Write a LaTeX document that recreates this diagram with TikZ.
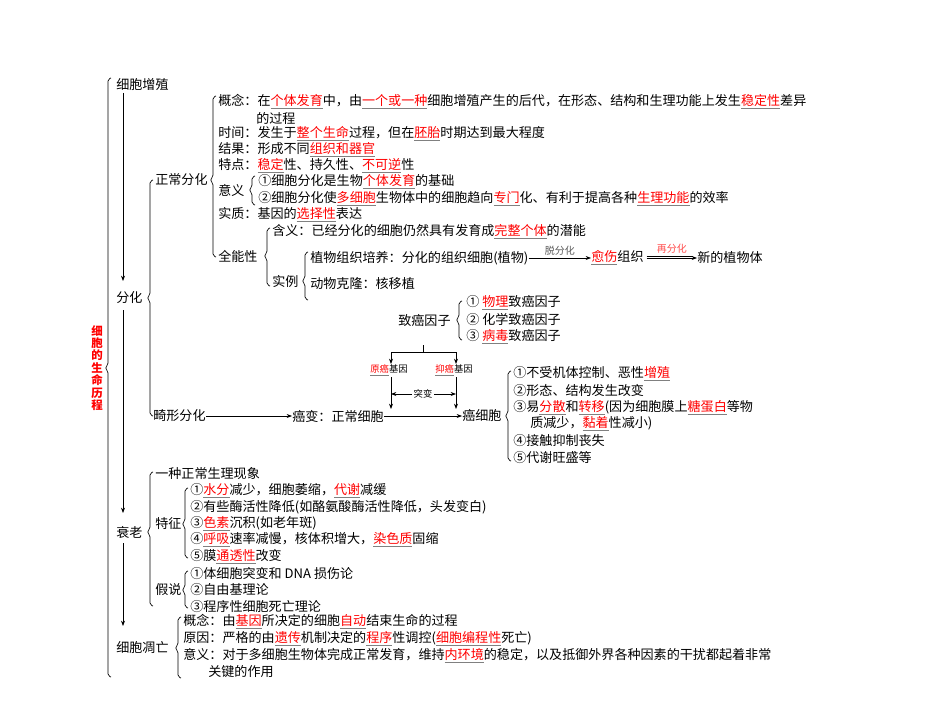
\documentclass[tikz,border=0pt]{standalone}
\usepackage{fontspec}
\setmainfont{Noto Sans CJK SC}
\usetikzlibrary{arrows.meta}
\newcommand\hl[1]{\textcolor{gray}{\underline{\textcolor{red}{#1}}}}
\newcommand\brc[4]{\draw[rounded corners=1.5] (#1+3,#2) -- (#1,#2+1) -- (#1,#3-3) -- (#1-3,#3) -- (#1,#3+3) -- (#1,#4-1) -- (#1+3,#4);}
\begin{document}
\begin{tikzpicture}[x=0.75pt,y=-0.75pt,
  t/.style={anchor=west,inner sep=0pt,font=\fontsize{9.8pt}{11pt}\selectfont},
  sm/.style={anchor=west,inner sep=0pt,font=\fontsize{7pt}{8pt}\selectfont},
  ar/.style={-{Stealth[length=4pt,width=3pt]},line width=0.5pt},
  line width=0.5pt]
\useasboundingbox (0,0) rectangle (950,713);
% outer
\node[inner sep=0pt,align=center,text=red,font=\fontsize{8.6pt}{9.3pt}\selectfont\bfseries] (title) at (97,368) {细\\胞\\的\\生\\命\\历\\程};
\brc{108}{78}{368}{677}
\node[t] (zz) at (116,85) {细胞增殖};
\node[t] (fh) at (116,298) {分化};
\node[t] (sl) at (116,532) {衰老};
\node[t] (dw) at (116,648) {细胞凋亡};
\coordinate (a1) at (123,281); \coordinate (a2) at (123,513); \coordinate (a3) at (123,626);
\draw[ar] (123,93) -- (a1);
\draw[ar] (123,310) -- (a2);
\draw[ar] (123,543) -- (a3);
% fenhua
\brc{150}{180}{298}{416}
\node[t] (zc) at (155,180) {正常分化};
\brc{213}{96}{180}{257}
\node[t] (gn) at (218,102) {概念：在\hl{个体发育}中，由\hl{一个或一种}细胞增殖产生的后代，在形态、结构和生理功能上发生\hl{稳定性}差异};
\node[t] (gn2) at (256,118) {的过程};
\node[t] (sj) at (218,134) {时间：发生于\hl{整个生命}过程，但在\hl{胚胎}时期达到最大程度};
\node[t] (jg) at (218,150) {结果：形成不同\hl{组织和器官}};
\node[t] (td) at (218,166) {特点：\hl{稳定}性、持久性、\hl{不可逆}性};
\node[t] (yy) at (218,190) {意义};
\brc{252}{176}{190}{205}
\node[t] (yy1) at (258,182) {①细胞分化是生物\hl{个体发育}的基础};
\node[t] (yy2) at (258,199) {②细胞分化使\hl{多细胞}生物体中的细胞趋向\hl{专门}化、有利于提高各种\hl{生理功能}的效率};
\node[t] (sz) at (218,215) {实质：基因的\hl{选择性}表达};
\node[t] (qn) at (218,256) {全能性};
\brc{267}{228}{256}{286}
\node[t] (hy) at (272,232) {含义：已经分化的细胞仍然具有发育成\hl{完整个体}的潜能};
\node[t] (sl2) at (272,281) {实例};
\brc{305}{252}{281}{300}
\node[t] (zw) at (310,258) {植物组织培养：分化的组织细胞(植物)};
\node[t] (dw2) at (310,284) {动物克隆：核移植};
\node[t] (ys) at (591,258) {\hl{愈伤}组织};
\node[t] (xd) at (697,258) {新的植物体};
\draw[ar] (zw.east) -- node[above=1pt,inner sep=1pt,font=\fontsize{7.5pt}{8pt}\selectfont,text=gray!70!black]{脱分化} (ys.west);
\draw[ar] ([xshift=2pt]ys.east) -- node[above=2pt,inner sep=1pt,font=\fontsize{7.5pt}{8pt}\selectfont,text=red!70]{再分化} (xd.west);
\draw[line width=0.4pt] ([xshift=2pt,yshift=1.3pt]ys.east) -- ([xshift=-3pt,yshift=1.3pt]xd.west);
% abnormal
\node[t] (jx) at (153,416) {畸形分化};
\node[t] (ab) at (292,416) {癌变：正常细胞};
\node[t] (axb) at (462,416) {癌细胞};
\draw[ar] (jx.east) -- (ab.west);
\draw[ar] (ab.east) -- (axb.west);
\node[t] (ay) at (398,320) {致癌因子};
\brc{459}{301}{320}{340}
\node[t] (ay1) at (466,303) {① \hl{物理}致癌因子};
\node[t] (ay2) at (466,320) {② 化学致癌因子};
\node[t] (ay3) at (466,337) {③ \hl{病毒}致癌因子};
\node[sm] (yag) at (370,370) {\hl{原癌}基因};
\node[sm] (yig) at (435,370) {\hl{抑癌}基因};
\draw (423,345) -- (423,352);
\draw[ar] (423,352) -| (391,364);
\draw[ar] (423,352) -| (456,364);
\draw[ar] (391,377) -- (391,409);
\draw[ar] (456,377) -- (456,409);
\node[inner sep=1pt,font=\fontsize{7pt}{8pt}\selectfont] (tb) at (423,394) {突变};
\draw[ar] (tb.west) -- (391,394);
\draw[ar] (tb.east) -- (456,394);
\brc{508}{371}{416}{461}
\node[t] (c1) at (513,374) {①不受机体控制、恶性\hl{增殖}};
\node[t] (c2) at (513,391) {②形态、结构发生改变};
\node[t] (c3) at (513,408) {③易\hl{分散}和\hl{转移}(因为细胞膜上\hl{糖蛋白}等物};
\node[t] (c3b) at (530,424) {质减少，\hl{黏着}性减小)};
\node[t] (c4) at (513,441) {④接触抑制丧失};
\node[t] (c5) at (513,458) {⑤代谢旺盛等};
% aging
\brc{150}{472}{532}{606}
\node[t] (zc2) at (155,474) {一种正常生理现象};
\node[t] (tz) at (155,524) {特征};
\brc{185}{488}{524}{558}
\node[t] (t1) at (190,491) {①\hl{水分}减少，细胞萎缩，\hl{代谢}减缓};
\node[t] (t2) at (190,507) {②有些酶活性降低(如酪氨酸酶活性降低，头发变白)};
\node[t] (t3) at (190,524) {③\hl{色素}沉积(如老年斑)};
\node[t] (t4) at (190,540) {④\hl{呼吸}速率减慢，核体积增大，\hl{染色质}固缩};
\node[t] (t5) at (190,557) {⑤膜\hl{通透性}改变};
\node[t] (js) at (155,590) {假说};
\brc{185}{571}{590}{608}
\node[t] (j1) at (190,574) {①体细胞突变和 DNA 损伤论};
\node[t] (j2) at (190,590) {②自由基理论};
\node[t] (j3) at (190,607) {③程序性细胞死亡理论};
% apoptosis
\brc{178}{617}{648}{678}
\node[t] (d1) at (183,622) {概念：由\hl{基因}所决定的细胞\hl{自动}结束生命的过程};
\node[t] (d2) at (183,639) {原因：严格的由\hl{遗传}机制决定的\hl{程序}性调控(\hl{细胞编程性}死亡)};
\node[t] (d3) at (183,656) {意义：对于多细胞生物体完成正常发育，维持\hl{内环境}的稳定，以及抵御外界各种因素的干扰都起着非常};
\node[t] (d4) at (208,672) {关键的作用};
\end{tikzpicture}
\end{document}
